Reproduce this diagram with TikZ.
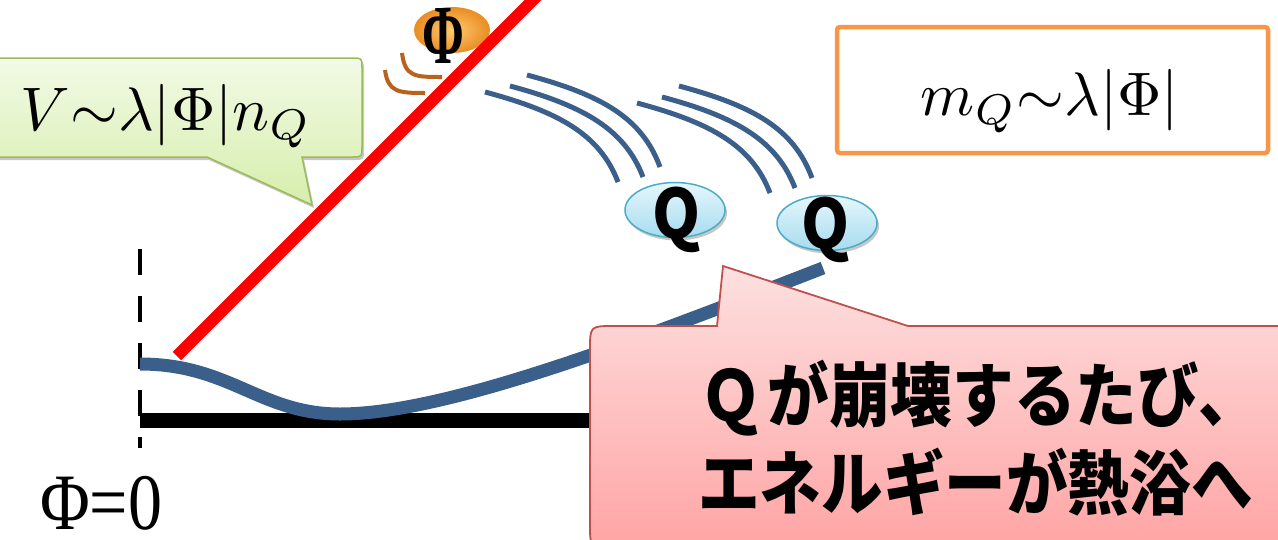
\documentclass[tikz,border=0pt]{standalone}
\usepackage{fontspec}
\usetikzlibrary{shapes.geometric,shadows}
\newfontfamily\jpfont[FakeStretch=0.88]{Noto Sans CJK JP}
\newfontfamily\qfont[FakeStretch=0.9]{Noto Sans CJK JP}
\newfontfamily\serifRM{Liberation Serif}

\definecolor{curveblue}{HTML}{3A5F8B}
\definecolor{potred}{HTML}{FF0000}
\definecolor{wavebrown}{HTML}{B8621E}
\definecolor{greenedge}{HTML}{9BBB59}
\definecolor{greentop}{HTML}{F2FAE6}
\definecolor{greenbot}{HTML}{D6EEAC}
\definecolor{pinkedge}{HTML}{C0504D}
\definecolor{pinktop}{HTML}{FDE0E0}
\definecolor{pinkbot}{HTML}{FFA4A4}
\definecolor{boxorange}{HTML}{F79646}
\definecolor{qedge}{HTML}{4BACC6}
\definecolor{qtop}{HTML}{E6F6FC}
\definecolor{qbot}{HTML}{A6DCF0}
\definecolor{ballin}{HTML}{FFCB72}
\definecolor{ballout}{HTML}{EA8C22}

% large formulas: typeset at 10pt and scaled up
\newcommand{\bigformula}[1]{\scalebox{6.15}{$#1$}}

\begin{document}
\begin{tikzpicture}[x=1pt,y=-1pt,
  softshadow/.style={drop shadow={shadow xshift=2pt,shadow yshift=-3pt,opacity=0.22,fill=black}},
  axisdash/.style={line width=4pt,dash pattern=on 26pt off 21pt},
  baseline/.style={line width=15pt},
  potential/.style={line width=13pt,curveblue},
  redline/.style={line width=12pt,potred},
  motion/.style={line width=5pt,curveblue},
  wave/.style={line width=4pt,wavebrown},
  greencallout/.style={draw=greenedge,line width=1.5pt,top color=greentop,bottom color=greenbot,softshadow},
  pinkcallout/.style={draw=pinkedge,line width=1.8pt,top color=pinktop,bottom color=pinkbot,softshadow},
  formbox/.style={draw=boxorange,line width=4.5pt,rounded corners=3pt},
  qball/.style={ellipse,draw=qedge,line width=1.5pt,top color=qtop,bottom color=qbot,
    minimum width=100pt,minimum height=55pt,inner sep=0pt,softshadow},
  phiball/.style={ellipse,inner color=ballin,outer color=ballout,
    minimum width=76pt,minimum height=46pt,inner sep=0pt},
  qglyph/.style={anchor=base,inner sep=0pt,font=\qfont\bfseries\fontsize{68}{70}\selectfont},
  mathlbl/.style={anchor=base,inner sep=0pt},
  jptext/.style={anchor=base west,inner sep=0pt,font=\jpfont\bfseries\fontsize{70}{80}\selectfont},
]
\useasboundingbox (0,0) rectangle (1278,539);
\clip (0,0) rectangle (1278,539);

% axis at Phi = 0 and the flat baseline
\coordinate (axtop) at (140,249);
\coordinate (axbot) at (140,448);
\draw[axisdash] (axtop) -- (axbot);
\coordinate (blstart) at (140,420.5);
\coordinate (blend) at (640,420.5);
\draw[baseline] (blstart) -- (blend);

% thermal potential curve
\coordinate (pcstart) at (140,364);
\coordinate (pcmin) at (340,414);
\coordinate (pcend) at (823,268);
\draw[potential] (pcstart) .. controls (230,364) and (260,414) .. (pcmin)
  .. controls (450,414) and (650,335) .. (pcend);

% field ball with its wiggle marks
\node[phiball] (phiball) at (452,30) {};
\node[anchor=center,inner sep=0pt] (philetter) at (443,36)
  {\scalebox{0.6}[1]{\serifRM\bfseries\fontsize{84}{90}\selectfont Φ}};
\draw[wave] (402,53) .. controls (405,77) and (415,77) .. (442,77);
\draw[wave] (385,70) .. controls (388,92) and (398,93) .. (425,93);

% linear potential V ~ lambda |Phi| n_Q
\coordinate (rlstart) at (177,356);
\coordinate (rlend) at (545,-12);
\draw[redline] (rlstart) -- (rlend);

% motion streaks of the two Q balls
\foreach \dx/\dy in {0/0,152/11}{
  \begin{scope}[shift={(\dx,\dy)}]
    \draw[motion] (485,92) .. controls (560,112) and (600,135) .. (618,182);
    \draw[motion] (510,86) .. controls (585,106) and (625,130) .. (643,177);
    \draw[motion] (527,75) .. controls (602,95) and (642,118) .. (660,167);
  \end{scope}
}

% Q balls
\node[qball] (qone) at (675,210) {};
\node[qglyph] (qonetext) at (677,238) {Q};
\node[qball] (qtwo) at (827,223) {};
\node[qglyph] (qtwotext) at (826,248) {Q};

% green callout
\draw[greencallout] (-10,58) -- (352,58) .. controls (362,58) .. (362,68) -- (362,147)
  .. controls (362,157) .. (352,157) -- (302,157) -- (312,205) -- (207,157) -- (-10,157) -- cycle;
\node[mathlbl] (vform) at (166,130) {\bigformula{V\mathord{\sim}\lambda|\Phi|n_Q}};

% mass formula box
\draw[formbox] (837,27) rectangle (1268,153);
\node[mathlbl] (mform) at (1050,115) {\bigformula{m_Q\mathord{\sim}\lambda|\Phi|}};

% pink callout
\draw[pinkcallout] (590,524) -- (590,350) .. controls (590,326) .. (614,326) -- (717,326)
  -- (723,266) -- (908,326) -- (1295,326) -- (1295,548) -- (614,548)
  .. controls (590,548) .. (590,524) -- cycle;
\node[jptext] (msgone) at (700,421) {Ｑ\hspace{6pt}が崩壊するたび、};
\node[jptext] (msgtwo) at (698,509) {エネルギーが熱浴へ};

% label of the axis
\node[anchor=base west,inner sep=0pt] (phizero) at (40,529)
  {\scalebox{0.85}[1]{\serifRM\fontsize{80}{84}\selectfont Φ=0}};
\end{tikzpicture}
\end{document}
